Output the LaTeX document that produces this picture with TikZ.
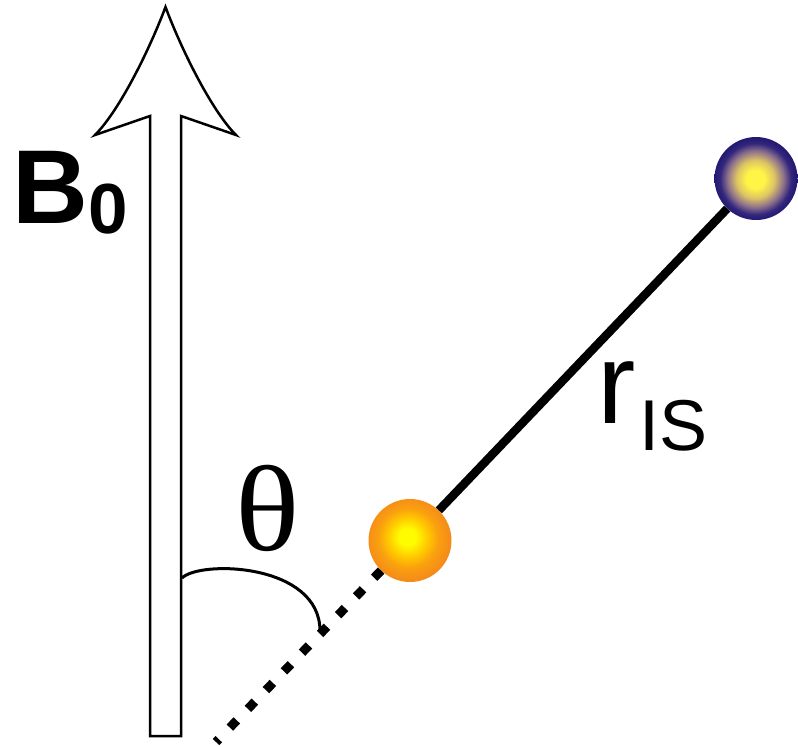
\documentclass[tikz,border=0pt]{standalone}
\usepackage{fontspec}
\usepackage{graphicx}
\newfontfamily\arialfont{Liberation Sans}
\newfontfamily\seriffont{Liberation Serif}
\definecolor{ballyellow}{RGB}{255,252,0}
\definecolor{ballorange}{RGB}{255,200,0}
\definecolor{ballorangemid}{RGB}{250,160,15}
\definecolor{ballorangedark}{RGB}{245,140,25}
\definecolor{bluecenter}{RGB}{255,245,70}
\definecolor{bluewarm}{RGB}{220,195,100}
\definecolor{bluemid}{RGB}{140,112,140}
\definecolor{blueouter}{RGB}{50,38,125}
\definecolor{blueedge}{RGB}{35,25,112}
\pgfdeclareradialshading{orangeball}{\pgfpoint{-1.8bp}{2.4bp}}{%
  color(0bp)=(ballyellow); color(5bp)=(ballyellow); color(12bp)=(ballorange); color(18bp)=(ballorangemid); color(25bp)=(ballorangedark); color(50bp)=(ballorangedark)}
\pgfdeclareradialshading{blueball}{\pgfpoint{-0.5bp}{-0.5bp}}{%
  color(0bp)=(bluecenter); color(5.5bp)=(bluecenter); color(11.5bp)=(bluewarm); color(17bp)=(bluemid); color(21.5bp)=(blueouter); color(25bp)=(blueedge); color(50bp)=(blueedge)}
\begin{document}
\begin{tikzpicture}[x=1pt,y=-1pt,
  outline/.style={draw=black,line width=2.5pt,line join=miter,fill=white},
  ball/.style={circle,minimum size=83pt,inner sep=0pt},
  bond/.style={line width=8.5pt},
  dotbond/.style={line width=9pt,dash pattern=on 10pt off 16pt},
  anglearc/.style={line width=3pt},
  lbl/.style={inner sep=0pt,anchor=base west}]
\useasboundingbox (0,0) rectangle (798,747);
% B0 arrow
\path[outline] (150,736) -- (150,116) -- (95,135)
  .. controls (119,111) and (149,51) .. (165.5,7)
  .. controls (182,51) and (212,111) .. (236,135)
  -- (181,116) -- (181,736) -- cycle;
% spheres
\node[ball,shading=orangeball] (I) at (410,540.5) {};
\node[ball,shading=blueball] (S) at (756,178.5) {};
\coordinate (dotend) at (216,742);
\coordinate (arcstart) at (182,578);
\coordinate (arcend) at (320,631);
% bonds
\draw[bond] (S) -- (I);
\draw[dotbond] (I) -- (dotend);
% angle
\draw[anglearc] (arcstart) .. controls (200,560) and (320,563) .. (arcend);
% labels
\node[lbl,font=\seriffont\fontsize{122}{122}\selectfont] (theta) at (235,550) {\scalebox{1.1}[1]{θ}};
\node[lbl,font=\arialfont\bfseries\fontsize{105}{105}\selectfont] (B0) at (12,223)
  {B\raisebox{-10pt}{\fontsize{71}{71}\selectfont 0}};
\node[lbl,font=\arialfont\fontsize{115}{115}\selectfont] (r) at (597,423)
  {r\hspace{4pt}\raisebox{-27pt}{\fontsize{72}{72}\selectfont IS}};
\end{tikzpicture}
\end{document}
